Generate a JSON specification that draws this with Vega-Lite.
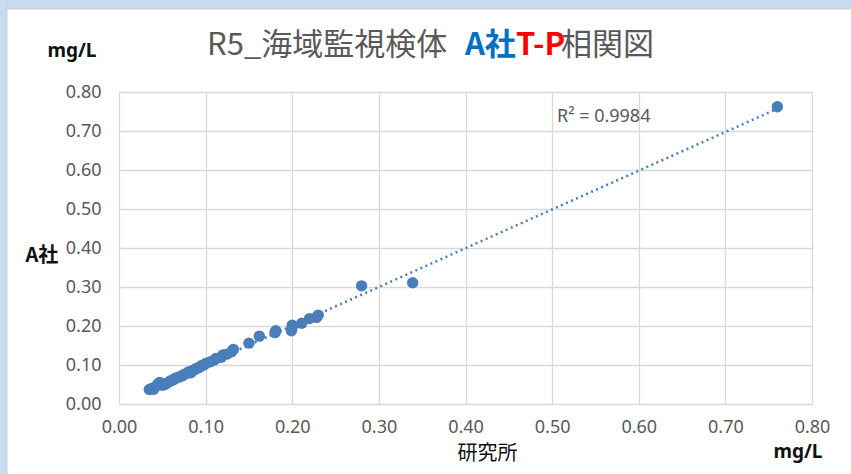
{
  "$schema": "https://vega.github.io/schema/vega-lite/v6.json",
  "width": 693,
  "height": 312,
  "autosize": {"type": "none"},
  "padding": {"left": 119, "top": 92, "right": 39, "bottom": 70},
  "background": "#ffffff",
  "data": {
    "values": [
      {"r": 0.035, "a": 0.037}, {"r": 0.038, "a": 0.040}, {"r": 0.040, "a": 0.038},
      {"r": 0.042, "a": 0.044}, {"r": 0.045, "a": 0.052}, {"r": 0.047, "a": 0.055},
      {"r": 0.050, "a": 0.048}, {"r": 0.053, "a": 0.050}, {"r": 0.055, "a": 0.053},
      {"r": 0.058, "a": 0.057}, {"r": 0.060, "a": 0.060}, {"r": 0.063, "a": 0.062},
      {"r": 0.065, "a": 0.066}, {"r": 0.068, "a": 0.068}, {"r": 0.070, "a": 0.070},
      {"r": 0.073, "a": 0.072}, {"r": 0.075, "a": 0.076}, {"r": 0.078, "a": 0.078},
      {"r": 0.080, "a": 0.082}, {"r": 0.083, "a": 0.080}, {"r": 0.085, "a": 0.086},
      {"r": 0.088, "a": 0.089}, {"r": 0.090, "a": 0.092}, {"r": 0.093, "a": 0.094},
      {"r": 0.095, "a": 0.098}, {"r": 0.098, "a": 0.100}, {"r": 0.100, "a": 0.104},
      {"r": 0.105, "a": 0.108}, {"r": 0.110, "a": 0.113}, {"r": 0.112, "a": 0.117},
      {"r": 0.118, "a": 0.120}, {"r": 0.120, "a": 0.126}, {"r": 0.125, "a": 0.128},
      {"r": 0.130, "a": 0.134}, {"r": 0.132, "a": 0.140}, {"r": 0.150, "a": 0.156},
      {"r": 0.162, "a": 0.174}, {"r": 0.180, "a": 0.183}, {"r": 0.181, "a": 0.188},
      {"r": 0.199, "a": 0.188}, {"r": 0.200, "a": 0.196}, {"r": 0.200, "a": 0.202},
      {"r": 0.211, "a": 0.207}, {"r": 0.220, "a": 0.219}, {"r": 0.228, "a": 0.222},
      {"r": 0.230, "a": 0.228}, {"r": 0.280, "a": 0.303}, {"r": 0.339, "a": 0.311},
      {"r": 0.760, "a": 0.762}
    ]
  },
  "encoding": {
    "x": {
      "field": "r",
      "type": "quantitative",
      "scale": {"domain": [0, 0.8], "nice": false, "zero": false},
      "axis": {
        "values": [0, 0.1, 0.2, 0.3, 0.4, 0.5, 0.6, 0.7, 0.8],
        "format": ".2f",
        "labelFlush": false,
        "labelOverlap": false,
        "title": "研究所",
        "titleFont": "Noto Sans CJK JP",
        "titleFontSize": 20,
        "titleFontWeight": "normal",
        "titleColor": "#111111",
        "titleX": 368,
        "titleY": 49,
        "titleAlign": "center",
        "titleBaseline": "middle",
        "labelPadding": 14
      }
    },
    "y": {
      "field": "a",
      "type": "quantitative",
      "scale": {"domain": [0, 0.8], "nice": false, "zero": false},
      "axis": {
        "values": [0, 0.1, 0.2, 0.3, 0.4, 0.5, 0.6, 0.7, 0.8],
        "format": ".2f",
        "labelOverlap": false,
        "title": "A社",
        "titleFont": "Noto Sans CJK JP",
        "titleFontSize": 20,
        "titleFontWeight": "bold",
        "titleColor": "#111111",
        "titleAngle": 0,
        "titleAlign": "left",
        "titleBaseline": "middle",
        "titleX": -94,
        "titleY": 163,
        "labelPadding": 18
      }
    }
  },
  "layer": [
    {
      "transform": [{"filter": "datum.r == 0.76"}],
      "mark": {"type": "rect", "fill": "#c6dbef", "stroke": "#d0d0d0", "strokeWidth": 1},
      "encoding": {
        "x": {"datum": -0.2},
        "x2": {"datum": 0.95},
        "y": {"datum": 1.06},
        "y2": {"datum": 1.013}
      }
    },
    {
      "transform": [{"filter": "datum.r == 0.76"}],
      "mark": {"type": "rect", "fill": "#c6dbef", "stroke": "#d0d0d0", "strokeWidth": 1},
      "encoding": {
        "x": {"datum": -0.2},
        "x2": {"datum": -0.1293},
        "y": {"datum": 1.06},
        "y2": {"datum": -0.3}
      }
    },
    {
      "transform": [{"regression": "a", "on": "r", "method": "linear"}],
      "mark": {"type": "line", "color": "#4a7ebb", "strokeWidth": 2.5, "strokeDash": [2, 3.5], "strokeCap": "butt"},
      "encoding": {}
    },
    {
      "mark": {"type": "circle", "color": "#4a7ebb", "opacity": 1, "size": 130}
    },
    {
      "transform": [{"filter": "datum.r == 0.76"}],
      "mark": {"type": "text", "align": "left", "baseline": "middle", "font": "Noto Sans", "fontSize": 18, "color": "#595959"},
      "encoding": {
        "x": {"datum": 0.5056},
        "y": {"datum": 0.7359},
        "text": {"value": "R² = 0.9984"}
      }
    },
    {
      "transform": [{"filter": "datum.r == 0.76"}],
      "mark": {"type": "text", "align": "left", "baseline": "alphabetic", "font": "Noto Sans CJK JP", "fontSize": 31, "color": "#595959"},
      "encoding": {
        "x": {"datum": 0.1016},
        "y": {"datum": 0.8949},
        "text": {"value": "R5_海域監視検体"}
      }
    },
    {
      "transform": [{"filter": "datum.r == 0.76"}],
      "mark": {"type": "text", "align": "left", "baseline": "alphabetic", "font": "Noto Sans CJK JP", "fontSize": 31, "fontWeight": "bold", "color": "#0070c0"},
      "encoding": {
        "x": {"datum": 0.3994},
        "y": {"datum": 0.8949},
        "text": {"value": "A社"}
      }
    },
    {
      "transform": [{"filter": "datum.r == 0.76"}],
      "mark": {"type": "text", "align": "left", "baseline": "alphabetic", "font": "Noto Sans CJK JP", "fontSize": 31, "fontWeight": "bold", "color": "#ff0000"},
      "encoding": {
        "x": {"datum": 0.4583},
        "y": {"datum": 0.8949},
        "text": {"value": "T-P"}
      }
    },
    {
      "transform": [{"filter": "datum.r == 0.76"}],
      "mark": {"type": "text", "align": "left", "baseline": "alphabetic", "font": "Noto Sans CJK JP", "fontSize": 31, "color": "#595959"},
      "encoding": {
        "x": {"datum": 0.5102},
        "y": {"datum": 0.8949},
        "text": {"value": "相関図"}
      }
    },
    {
      "transform": [{"filter": "datum.r == 0.76"}],
      "mark": {"type": "text", "align": "center", "baseline": "alphabetic", "font": "Noto Sans", "fontSize": 19, "fontWeight": "bold", "color": "#111111"},
      "encoding": {
        "x": {"datum": -0.0543},
        "y": {"datum": 0.8897},
        "text": {"value": "mg/L"}
      }
    },
    {
      "transform": [{"filter": "datum.r == 0.76"}],
      "mark": {"type": "text", "align": "center", "baseline": "alphabetic", "font": "Noto Sans", "fontSize": 19, "fontWeight": "bold", "color": "#111111"},
      "encoding": {
        "x": {"datum": 0.7838},
        "y": {"datum": -0.1385},
        "text": {"value": "mg/L"}
      }
    }
  ],
  "config": {
    "view": {"stroke": null},
    "axis": {
      "grid": true,
      "gridColor": "#d9d9d9",
      "gridWidth": 1.3,
      "domain": false,
      "ticks": false,
      "labelFont": "Noto Sans",
      "labelFontSize": 18,
      "labelColor": "#595959"
    }
  }
}
